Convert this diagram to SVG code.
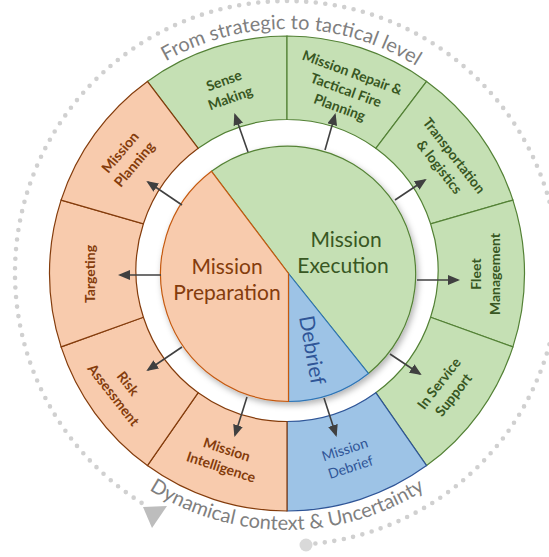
<svg xmlns="http://www.w3.org/2000/svg" width="549" height="557" viewBox="0 0 549 557">
<style>
.or{fill:#F8CBAD;stroke:#843C0C;stroke-width:1.2}
.gr{fill:#C5E0B4;stroke:#538135;stroke-width:1.2}
.bl{fill:#9DC3E6;stroke:#2F5597;stroke-width:1.2}
.lbl{font-family:Lato,"Open Sans",sans-serif;font-size:14px;font-weight:bold;text-anchor:middle}
.lo{fill:#843C0C}.lg{fill:#385723}.lb{fill:#2F5597;font-weight:normal}
.ctr{font-family:Lato,"Open Sans",sans-serif;font-size:21px;text-anchor:middle}
.arc{font-family:Lato,"Open Sans",sans-serif;font-size:20px;fill:#7F7F7F}
.con line{stroke:#404040;stroke-width:1.6;marker-end:url(#ah)}
</style>
<defs>
<marker id="ah" markerUnits="userSpaceOnUse" markerWidth="12" markerHeight="10" viewBox="0 0 12 10" refX="10" refY="5" orient="auto">
<path d="M0,0 L12,5 L0,10 Z" fill="#404040"/>
</marker>
<filter id="sh" x="-15%" y="-15%" width="130%" height="130%">
<feDropShadow dx="2" dy="3" stdDeviation="3" flood-color="#000" flood-opacity="0.3"/>
</filter>
<path id="topArc" d="M43,273 A244,244 0 0 1 531,273"/>
<path id="botArc" d="M30,273 A257,257 0 0 0 544,273"/>
</defs>

<g id="frame">
<path d="M315.4,543.5 A272,272 0 1 0 142.9,503.7" fill="none" stroke="#D0D0D0" stroke-width="4.6" stroke-linecap="round" stroke-dasharray="0 9.6"/>
<circle cx="306" cy="545" r="6.5" fill="#D9D9D9"/>
<polygon points="143,507 167,506 152,528" fill="#BDBDBD"/>
<text class="arc"><textPath href="#topArc" startOffset="50.6%" text-anchor="middle">From strategic to tactical level</textPath></text>
<text class="arc"><textPath href="#botArc" startOffset="50%" text-anchor="middle">Dynamical context &amp; Uncertainty</textPath></text>
</g>

<g id="sense-making">
<path class="gr" d="M147.4,81.4 A237.5,237.5 0 0 1 287,36 L287,119.5 A151,151 0 0 0 198.2,148.3 Z"/>
<text class="lbl lg" transform="translate(227,89) rotate(-20)"><tspan x="0" y="-4">Sense</tspan><tspan x="0" y="14.5">Making</tspan></text>
</g>
<g id="mission-repair">
<path class="gr" d="M287,36 A237.5,237.5 0 0 1 426.6,81.4 L375.8,148.3 A151,151 0 0 0 287,119.5 Z"/>
<text class="lbl lg" transform="translate(346,90) rotate(20)"><tspan x="0" y="-13.5">Mission Repair &amp;</tspan><tspan x="0" y="5">Tactical Fire</tspan><tspan x="0" y="23.5">Planning</tspan></text>
</g>
<g id="transportation">
<path class="gr" d="M426.6,81.4 A237.5,237.5 0 0 1 512.9,200.1 L430.6,223.8 A151,151 0 0 0 375.8,148.3 Z"/>
<text class="lbl lg" transform="translate(447,161) rotate(52)"><tspan x="0" y="-4">Transportation</tspan><tspan x="0" y="14.5">&amp; logistics</tspan></text>
</g>
<g id="fleet-management">
<path class="gr" d="M512.9,200.1 A237.5,237.5 0 0 1 512.9,346.9 L430.6,317.2 A151,151 0 0 0 430.6,223.8 Z"/>
<text class="lbl lg" transform="translate(485,274) rotate(-90)"><tspan x="0" y="-4">Fleet</tspan><tspan x="0" y="14.5">Management</tspan></text>
</g>
<g id="in-service-support">
<path class="gr" d="M512.9,346.9 A237.5,237.5 0 0 1 426.6,465.6 L375.8,392.7 A151,151 0 0 0 430.6,317.2 Z"/>
<text class="lbl lg" transform="translate(446,389) rotate(-52)"><tspan x="0" y="-4">In Service</tspan><tspan x="0" y="14.5">Support</tspan></text>
</g>
<g id="mission-debrief">
<path class="bl" d="M426.6,465.6 A237.5,237.5 0 0 1 287,511 L287,421.5 A151,151 0 0 0 375.8,392.7 Z"/>
<text class="lbl lb" transform="translate(347.5,458) rotate(-18)"><tspan x="0" y="-4">Mission</tspan><tspan x="0" y="14.5">Debrief</tspan></text>
</g>
<g id="mission-intelligence">
<path class="or" d="M287,511 A237.5,237.5 0 0 1 147.4,465.6 L198.2,392.7 A151,151 0 0 0 287,421.5 Z"/>
<text class="lbl lo" transform="translate(224,458) rotate(18)"><tspan x="0" y="-4">Mission</tspan><tspan x="0" y="14.5">Intelligence</tspan></text>
</g>
<g id="risk-assessment">
<path class="or" d="M147.4,465.6 A237.5,237.5 0 0 1 61.1,346.9 L143.4,317.2 A151,151 0 0 0 198.2,392.7 Z"/>
<text class="lbl lo" transform="translate(121,389) rotate(52)"><tspan x="0" y="-4">Risk</tspan><tspan x="0" y="14.5">Assessment</tspan></text>
</g>
<g id="targeting">
<path class="or" d="M61.1,346.9 A237.5,237.5 0 0 1 61.1,200.1 L143.4,223.8 A151,151 0 0 0 143.4,317.2 Z"/>
<text class="lbl lo" transform="translate(90,274) rotate(-90)"><tspan x="0" y="4.5">Targeting</tspan></text>
</g>
<g id="mission-planning">
<path class="or" d="M61.1,200.1 A237.5,237.5 0 0 1 147.4,81.4 L198.2,148.3 A151,151 0 0 0 143.4,223.8 Z"/>
<text class="lbl lo" transform="translate(127,158) rotate(-50)"><tspan x="0" y="-4">Mission</tspan><tspan x="0" y="14.5">Planning</tspan></text>
</g>

<g id="core" filter="url(#sh)">
<g id="mission-execution">
<path d="M288.5,273.5 L211.5,171.3 A128,128 0 0 1 368.4,373.5 Z" fill="#C5E0B4" stroke="#548235" stroke-width="1.2"/>
</g>
<g id="debrief">
<path d="M288.5,273.5 L368.4,373.5 A128,128 0 0 1 288.5,401.5 Z" fill="#9DC3E6" stroke="#2E75B6" stroke-width="1.2"/>
</g>
<g id="mission-preparation">
<path d="M288.5,273.5 L288.5,401.5 A128,128 0 0 1 211.5,171.3 Z" fill="#F8CBAD" stroke="#C55A11" stroke-width="1.2"/>
</g>
</g>
<text class="ctr" fill="#385723" x="346" y="247">Mission</text>
<text class="ctr" fill="#385723" x="343" y="273">Execution</text>
<text class="ctr" fill="#843C0C" x="227" y="274">Mission</text>
<text class="ctr" fill="#843C0C" x="227" y="300">Preparation</text>
<text class="ctr" fill="#2F5597" transform="translate(312,350) rotate(80)" x="0" y="7">Debrief</text>

<g id="connectors" class="con">
<line x1="248" y1="152" x2="235" y2="115"/>
<line x1="325" y1="150" x2="335" y2="115"/>
<line x1="395" y1="200" x2="425" y2="180"/>
<line x1="417" y1="280" x2="458" y2="280"/>
<line x1="390" y1="354" x2="420" y2="374"/>
<line x1="324" y1="398" x2="336" y2="435"/>
<line x1="247" y1="397" x2="235" y2="435"/>
<line x1="182" y1="347" x2="148" y2="370"/>
<line x1="161" y1="275" x2="120" y2="275"/>
<line x1="182" y1="205" x2="148" y2="182"/>
</g>
</svg>
